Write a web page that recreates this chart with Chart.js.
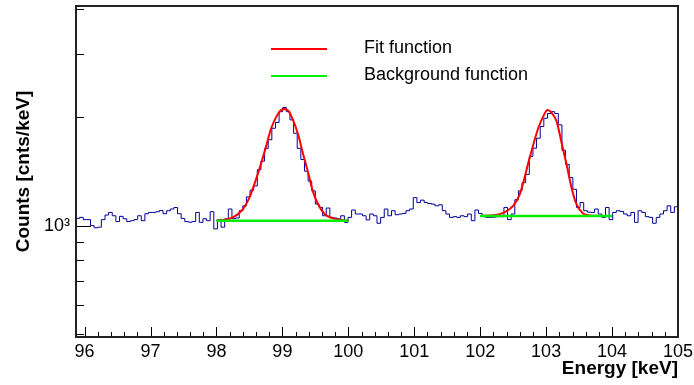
<!DOCTYPE html>
<html>
<head>
<meta charset="utf-8">
<title>Energy spectrum</title>
<script src="https://cdn.jsdelivr.net/npm/chart.js@4/dist/chart.umd.min.js"></script>
<style>
  html, body { margin: 0; padding: 0; background: #fff; }
  canvas { display: block; }
</style>
</head>
<body>
<canvas id="spectrum" width="694" height="385"></canvas>
<script>
// histogram binning (keV)
const binStart = 95.87;
const binWidth = 0.055;

// counts per bin, left to right
const counts = [
  1047, 1054, 1039, 1039, 1000, 986, 990, 1039, 1070, 1088,
  1065, 1026, 1061, 1045, 1026, 1032, 1039, 1065, 1032, 1079,
  1088, 1088, 1093, 1102, 1079, 1100, 1112, 1123, 1079, 1047,
  1026, 1022, 1026, 1088, 1021, 1045, 1032, 1093, 979, 1039,
  990, 1044, 1112, 1045, 1050, 1100, 1135, 1202, 1254, 1289,
  1430, 1511, 1640, 1733, 1865, 1936, 2074, 2130, 2074, 1968,
  1806, 1640, 1527, 1417, 1330, 1249, 1148, 1123, 1065, 1119,
  1054, 1050, 1044, 1065, 1021, 1054, 1105, 1077, 1077, 1065,
  1037, 1077, 1065, 1015, 1054, 1112, 1065, 1100, 1072, 1077,
  1081, 1100, 1112, 1196, 1159, 1177, 1159, 1152, 1147, 1135,
  1143, 1100, 1077, 1054, 1059, 1054, 1065, 1059, 1077, 1032,
  1105, 1081, 1059, 1054, 1054, 1056, 1059, 1059, 1123, 1039,
  1077, 1180, 1249, 1316, 1388, 1558, 1642, 1750, 1886, 1988,
  2050, 2074, 2050, 1906, 1620, 1480, 1360, 1262, 1123, 1159,
  1100, 1090, 1088, 1112, 1077, 1054, 1123, 1039, 1088, 1100,
  1095, 1077, 1065, 1088, 1021, 1100, 1088, 1059, 1054, 1015,
  1054, 1077, 1100, 1135, 1088, 1128
];

// fit around the 99 keV line
const fit1Energy = [98.0, 98.1, 98.25, 98.4, 98.5, 98.6, 98.68, 98.76, 98.83, 98.91, 98.98, 99.03,
  99.09, 99.16, 99.24, 99.31, 99.39, 99.46, 99.54, 99.64, 99.77, 99.9, 100.0];
const fit1Value = [1033, 1036, 1054, 1110, 1196, 1345, 1494, 1679, 1865, 2009, 2097, 2110,
  2084, 1968, 1789, 1592, 1405, 1249, 1148, 1077, 1047, 1036, 1033];

// fit around the 103 keV line
const fit2Energy = [102.0, 102.2, 102.35, 102.5, 102.6, 102.75, 102.88, 102.955, 103.02, 103.08,
  103.16, 103.23, 103.31, 103.385, 103.46, 103.56, 103.66, 103.8, 104.0];
const fit2Value = [1064, 1068, 1085, 1135, 1222, 1543, 1865, 2009, 2097, 2063,
  1946, 1714, 1479, 1275, 1147, 1081, 1067, 1064, 1063];

// flat backgrounds under each fit
const bg1Energy = [98.0, 100.0];
const bg1Value = [1032, 1032];
const bg2Energy = [102.0, 104.0];
const bg2Value = [1063, 1063];

// axes
const xMin = 95.87;
const xMax = 105.0;
const yMin = 490;
const yMax = 4080;
const xMajorTicks = [96, 97, 98, 99, 100, 101, 102, 103, 104, 105];
const yMajorTicks = [1000];
const yMinorTicks = [500, 600, 700, 800, 900, 2000, 3000, 4000];

const fontFamily = "'Liberation Sans', Arial, Helvetica, sans-serif";

const $canvas = document.querySelector("#spectrum");

// bin edges -> stepped points (last edge repeats the last bin)
let histPoints = [];
counts.forEach((c, i) => {
  histPoints.push({ x: binStart + i * binWidth, y: c });
});
histPoints.push({ x: binStart + counts.length * binWidth, y: counts[counts.length - 1] });

function toPoints(xs, ys)
{
  return xs.map((x, i) => ({ x: x, y: ys[i] }));
}

// minor x ticks every 0.2 keV between the majors
let xMinorTicks = [];
for (let i = 0; i < xMajorTicks.length - 1; i++)
{
  for (let k = 1; k < 5; k++)
  {
    xMinorTicks.push(xMajorTicks[i] + k * 0.2);
  }
}

// no extra room for half labels at the axis ends
function noEndPadding(scale)
{
  scale.paddingTop = 0;
  scale.paddingBottom = 0;
  scale.paddingLeft = 0;
  scale.paddingRight = 0;
}

// frame and inward pointing ticks
const frameTicks = {
  id: "frameTicks",
  afterDatasetsDraw(chart)
  {
    const { ctx, chartArea: a, scales: { x, y } } = chart;
    ctx.save();
    ctx.strokeStyle = "#000";
    ctx.lineWidth = 1;

    function seg(x1, y1, x2, y2)
    {
      ctx.beginPath();
      ctx.moveTo(x1, y1);
      ctx.lineTo(x2, y2);
      ctx.stroke();
    }

    xMajorTicks.forEach(v => {
      let px = Math.round(x.getPixelForValue(v)) + 0.5;
      seg(px, a.bottom, px, a.bottom - 10);
    });
    xMinorTicks.forEach(v => {
      let px = Math.round(x.getPixelForValue(v)) + 0.5;
      seg(px, a.bottom, px, a.bottom - 5);
    });
    yMajorTicks.forEach(v => {
      let py = Math.round(y.getPixelForValue(v)) + 0.5;
      seg(a.left, py, a.left + 15, py);
    });
    yMinorTicks.forEach(v => {
      let py = Math.round(y.getPixelForValue(v)) + 0.5;
      seg(a.left, py, a.left + 8, py);
    });

    ctx.lineWidth = 2;
    ctx.strokeStyle = "#222";
    ctx.strokeRect(a.left, a.top, a.right - a.left, a.bottom - a.top);
    ctx.restore();
  }
};

// legend box drawn inside the frame
const fitLegend = {
  id: "fitLegend",
  afterDraw(chart)
  {
    const ctx = chart.ctx;
    let seen = [];
    chart.data.datasets.forEach(ds => {
      if (ds.legendRow !== undefined && seen.indexOf(ds.label) < 0)
      {
        seen.push(ds.label);
        let yLine = 49 + ds.legendRow * 27;
        ctx.save();
        ctx.strokeStyle = ds.borderColor;
        ctx.lineWidth = 2;
        ctx.beginPath();
        ctx.moveTo(271, yLine);
        ctx.lineTo(327, yLine);
        ctx.stroke();
        ctx.fillStyle = "#000";
        ctx.font = "18px " + fontFamily;
        ctx.textBaseline = "alphabetic";
        ctx.fillText(ds.label, 364, yLine + 4);
        ctx.restore();
      }
    });
  }
};

let spectrum = new Chart($canvas, {
  type: "line",
  data: {
    datasets: [
      {
        label: "Background function",
        legendRow: 1,
        data: toPoints(bg1Energy, bg1Value),
        borderColor: "#00ee00",
        borderWidth: 2.5,
        pointRadius: 0
      },
      {
        label: "Background function",
        data: toPoints(bg2Energy, bg2Value),
        borderColor: "#00ee00",
        borderWidth: 2.5,
        pointRadius: 0
      },
      {
        label: "Fit function",
        legendRow: 0,
        data: toPoints(fit1Energy, fit1Value),
        borderColor: "#ff0000",
        borderWidth: 2,
        pointRadius: 0,
        cubicInterpolationMode: "monotone"
      },
      {
        label: "Fit function",
        data: toPoints(fit2Energy, fit2Value),
        borderColor: "#ff0000",
        borderWidth: 2,
        pointRadius: 0,
        cubicInterpolationMode: "monotone"
      },
      {
        label: "Counts",
        data: histPoints,
        borderColor: "#000099",
        borderWidth: 1,
        pointRadius: 0,
        stepped: true
      }
    ]
  },
  options: {
    responsive: false,
    animation: false,
    devicePixelRatio: 1,
    layout: { padding: { left: 0, right: 16, top: 6, bottom: 0 } },
    plugins: {
      legend: { display: false },
      tooltip: { enabled: false }
    },
    scales: {
      x: {
        type: "linear",
        min: xMin,
        max: xMax,
        grid: { display: false, drawTicks: false },
        border: { display: false },
        afterBuildTicks: scale => { scale.ticks = xMajorTicks.map(v => ({ value: v })); },
        afterFit: scale => { scale.height = 48; noEndPadding(scale); },
        ticks: {
          color: "#000",
          padding: 4,
          maxRotation: 0,
          font: { family: fontFamily, size: 18 },
          callback: v => String(v)
        },
        title: {
          display: true,
          text: "Energy [keV]",
          align: "end",
          color: "#000",
          padding: { top: 0, bottom: 5 },
          font: { family: fontFamily, size: 19, weight: "bold" }
        }
      },
      y: {
        type: "logarithmic",
        min: yMin,
        max: yMax,
        grid: { display: false, drawTicks: false },
        border: { display: false },
        afterBuildTicks: scale => { scale.ticks = yMajorTicks.map(v => ({ value: v })); },
        afterFit: scale => { scale.width = 76; noEndPadding(scale); },
        ticks: {
          color: "#000",
          padding: 6,
          font: { family: fontFamily, size: 18 },
          callback: v => (v === 1000 ? "10\u00b3" : "")
        },
        title: {
          display: true,
          text: "Counts [cnts/keV]",
          color: "#000",
          padding: { top: 12, bottom: 0 },
          font: { family: fontFamily, size: 19, weight: "bold" }
        }
      }
    }
  },
  plugins: [frameTicks, fitLegend]
});
</script>
</body>
</html>
